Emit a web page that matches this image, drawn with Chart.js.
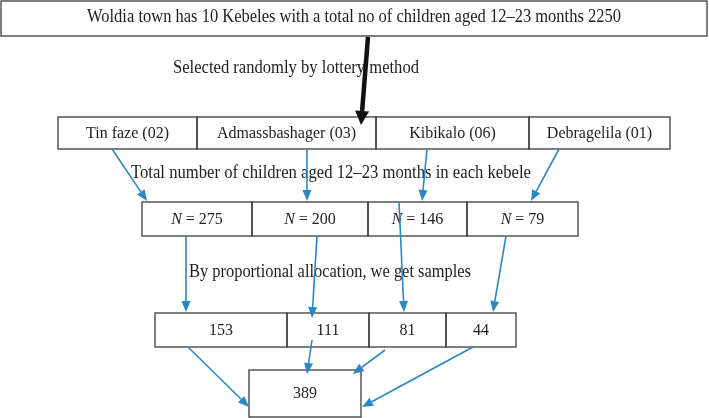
<!DOCTYPE html>
<html lang="en">
  <head>
    <meta charset="UTF-8" />
    <title>Sampling flow</title>
    <script src="https://cdn.jsdelivr.net/npm/chart.js"></script>
    <style>
      body { margin: 0; background: #fff; }
    </style>
  </head>
  <body>
    <div style="width: 709px; height: 418px">
      <canvas id="fluxo" width="709" height="418"></canvas>
    </div>
    <script>
      // data
      const titulo = "Woldia town has 10 Kebeles with a total no of children aged 12\u201323 months 2250"
      const kebeles = ["Tin faze (02)", "Admassbashager (03)", "Kibikalo (06)", "Debragelila (01)"]
      const totais = [275, 200, 146, 79]
      const amostras = [153, 111, 81, 44]
      const amostraTotal = 389
      const passos = [
        "Selected randomly by lottery method",
        "Total number of children aged 12\u201323 months in each kebele",
        "By proportional allocation, we get samples",
      ]

      // layout (in axis units, 1 unit = 1 px)
      const caixaTopo = { x: [1, 707], y: [1, 36] }
      const linha1 = { x: [58, 197, 376, 529, 670], y: [117, 149] }
      const linha2 = { x: [142, 252, 368, 467, 578], y: [202, 236] }
      const linha3 = { x: [155, 287, 369, 446, 516], y: [313, 347] }
      const caixaFinal = { x: [249, 361], y: [370, 417] }
      const rotulosPos = [
        { cx: 296, cy: 68, w: 246 },
        { cx: 331, cy: 173, w: 400 },
        { cx: 330, cy: 272, w: 282 },
      ]
      const setaPreta = [368, 37, 361, 125]
      const setasAzuis = [
        [112, 149, 147, 201], [307, 149, 307, 201], [427, 149, 422, 201], [559, 149, 531, 201],
        [186, 236, 186, 312], [317, 236, 312, 318], [399, 202, 404, 312], [506, 236, 493, 312],
        [188, 347, 249, 407], [312, 340, 307, 374], [385, 350, 353, 374], [473, 347, 362, 407],
      ]

      const corBorda = "#3b3b3b"
      const corAzul = "#2a87c6"
      const corTexto = "#1e1e1e"
      const fonte = '"Liberation Serif", "Times New Roman", serif'

      const desenhoFluxo = {
        id: "desenhoFluxo",
        afterDraw(chart) {
          const c = chart.ctx
          const sx = chart.scales.x
          const sy = chart.scales.y
          const px = (v) => sx.getPixelForValue(v)
          const py = (v) => sy.getPixelForValue(v)

          const caixa = (x0, x1, y0, y1) => {
            c.save()
            c.strokeStyle = corBorda
            c.lineWidth = 1.3
            c.strokeRect(px(x0), py(y0), px(x1) - px(x0), py(y1) - py(y0))
            c.restore()
          }

          // glyphs in the reference are a bit taller than Liberation Serif, so stretch y a little
          const texto = (t, cx, cy, tam, largura, italicoN) => {
            c.save()
            c.fillStyle = corTexto
            c.textBaseline = "middle"
            c.textAlign = "center"
            c.font = tam + "px " + fonte
            let w = c.measureText(t).width
            c.translate(px(cx), py(cy))
            c.scale(largura ? largura / w : 1, 1.08)
            if (italicoN) {
              // "N = 275" with italic N
              const resto = " = " + t
              c.font = "italic " + tam + "px " + fonte
              const wn = c.measureText("N").width
              c.font = tam + "px " + fonte
              const wr = c.measureText(resto).width
              const inicio = -(wn + wr) / 2
              c.textAlign = "left"
              c.font = "italic " + tam + "px " + fonte
              c.fillText("N", inicio, 0)
              c.font = tam + "px " + fonte
              c.fillText(resto, inicio + wn, 0)
            } else {
              c.fillText(t, 0, 0)
            }
            c.restore()
          }

          const seta = (x1, y1, x2, y2, cor, lw, comp, larg) => {
            const a1 = px(x1), b1 = py(y1), a2 = px(x2), b2 = py(y2)
            const ang = Math.atan2(b2 - b1, a2 - a1)
            const bx = a2 - comp * Math.cos(ang)
            const by = b2 - comp * Math.sin(ang)
            c.save()
            c.strokeStyle = cor
            c.fillStyle = cor
            c.lineWidth = lw
            c.beginPath()
            c.moveTo(a1, b1)
            c.lineTo(bx, by)
            c.stroke()
            c.beginPath()
            c.moveTo(a2, b2)
            c.lineTo(bx + (larg / 2) * Math.sin(ang), by - (larg / 2) * Math.cos(ang))
            c.lineTo(bx - (larg / 2) * Math.sin(ang), by + (larg / 2) * Math.cos(ang))
            c.closePath()
            c.fill()
            c.restore()
          }

          // top box
          caixa(caixaTopo.x[0], caixaTopo.x[1], caixaTopo.y[0], caixaTopo.y[1])
          texto(titulo, (caixaTopo.x[0] + caixaTopo.x[1]) / 2, 17, 17, 534)

          // rows of boxes
          const linhas = [
            [linha1, kebeles, false],
            [linha2, totais, true],
            [linha3, amostras, false],
          ]
          linhas.forEach(([lin, vals, ital]) => {
            vals.forEach((v, i) => {
              caixa(lin.x[i], lin.x[i + 1], lin.y[0], lin.y[1])
              texto(String(v), (lin.x[i] + lin.x[i + 1]) / 2, (lin.y[0] + lin.y[1]) / 2 + 0.5, 16, null, ital)
            })
          })

          caixa(caixaFinal.x[0], caixaFinal.x[1], caixaFinal.y[0], caixaFinal.y[1])
          texto(String(amostraTotal), (caixaFinal.x[0] + caixaFinal.x[1]) / 2, 393, 16)

          // step labels
          passos.forEach((p, i) => {
            const r = rotulosPos[i]
            texto(p, r.cx, r.cy, 17, r.w)
          })

          // arrows
          seta(...setaPreta, "#111", 4.5, 14, 14)
          setasAzuis.forEach((s) => seta(...s, corAzul, 1.6, 11, 9))
        },
      }

      const ctx = document.getElementById("fluxo")
      const grafico = new Chart(ctx, {
        type: "scatter",
        data: { datasets: [{ data: [], pointRadius: 0 }] },
        options: {
          responsive: false,
          animation: false,
          events: [],
          layout: { padding: 0 },
          plugins: { legend: { display: false }, tooltip: { enabled: false } },
          scales: {
            x: { type: "linear", min: 0, max: 709, display: false },
            y: { type: "linear", min: 0, max: 418, reverse: true, display: false },
          },
        },
        plugins: [desenhoFluxo],
      })
    </script>
  </body>
</html>
